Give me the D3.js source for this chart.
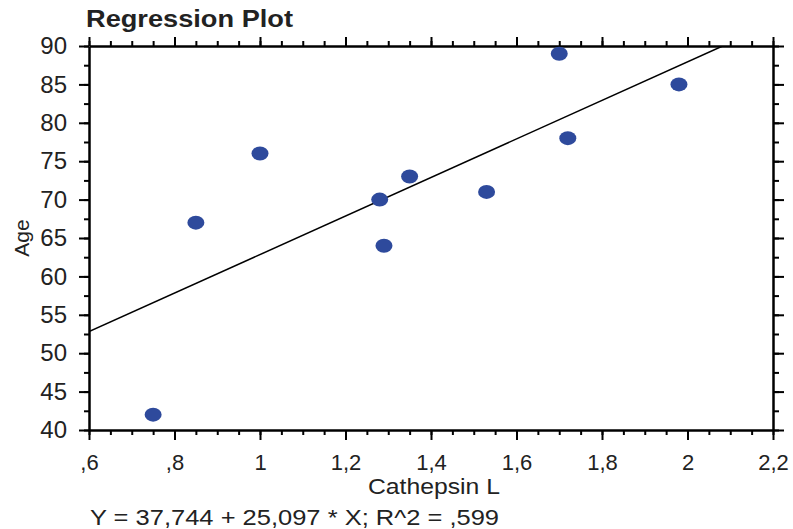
<!DOCTYPE html>
<html>
<head>
<meta charset="utf-8">
<script src="https://cdn.jsdelivr.net/npm/d3@7"></script>
<style>
  body { margin: 0; background: #fff; }
  text { font-family: "Liberation Sans", Arial, sans-serif; fill: #222; }
</style>
</head>
<body>
<svg id="chart"></svg>
<script>
// data
const cathepsin = [0.75, 0.85, 1.0, 1.28, 1.29, 1.35, 1.53, 1.70, 1.72, 1.98];
const age = [42, 67, 76, 70, 64, 73, 71, 89, 78, 85];
const intercept = 37.744;
const slope = 25.097;
const xTicks = [0.6, 0.8, 1.0, 1.2, 1.4, 1.6, 1.8, 2.0, 2.2];
const yTicks = [40, 45, 50, 55, 60, 65, 70, 75, 80, 85, 90];
const equation = "Y = 37,744 + 25,097 * X; R^2 = ,599";

const width = 793, height = 529;
const margin = {top: 46, right: 20, bottom: 99, left: 89};

const svg = d3.select("#chart").attr("width", width).attr("height", height);

const x = d3.scaleLinear().domain([0.6, 2.2]).range([margin.left, width - margin.right]);
const y = d3.scaleLinear().domain([40, 90]).range([height - margin.bottom, margin.top]);

// ",6" style labels with decimal comma
const fmt = v => {
    let s = d3.format("~g")(+v.toFixed(2)).replace(".", ",");
    return s.startsWith("0,") ? s.slice(1) : s;
};

const xMinor = d3.range(0.6, 2.2001, 0.05).map(v => +v.toFixed(2));
const yMinor = d3.range(40, 90.001, 2.5);

function drawAxis(axis, transform, minorAxis, fontSize){
    const gm = svg.append("g").attr("transform", transform).call(minorAxis);
    gm.select(".domain").remove();
    gm.selectAll("text").remove();
    gm.selectAll("line").attr("stroke", "#000").attr("stroke-width", 2);
    const g = svg.append("g").attr("transform", transform).call(axis);
    g.select(".domain").attr("stroke", "#000").attr("stroke-width", 2.5);
    g.selectAll("line").attr("stroke", "#000").attr("stroke-width", 2);
    g.selectAll("text").style("font-size", fontSize + "px").attr("fill", "#222");
    return g;
}

const bottomY = height - margin.bottom;
drawAxis(d3.axisBottom(x).tickValues(xTicks).tickFormat(fmt).tickSize(10).tickSizeOuter(0).tickPadding(14),
    `translate(0,${bottomY})`,
    d3.axisBottom(x).tickValues(xMinor).tickSize(5).tickSizeOuter(0), 22);
drawAxis(d3.axisTop(x).tickValues(xTicks).tickFormat("").tickSize(9).tickSizeOuter(0),
    `translate(0,${margin.top})`,
    d3.axisTop(x).tickValues(xMinor).tickSize(5).tickSizeOuter(0), 22);
drawAxis(d3.axisLeft(y).tickValues(yTicks).tickSize(10).tickSizeOuter(0).tickPadding(12),
    `translate(${margin.left},0)`,
    d3.axisLeft(y).tickValues(yMinor).tickSize(5).tickSizeOuter(0), 24);
drawAxis(d3.axisRight(y).tickValues(yTicks).tickFormat("").tickSize(11).tickSizeOuter(0),
    `translate(${width - margin.right},0)`,
    d3.axisRight(y).tickValues(yMinor).tickSize(6).tickSizeOuter(0), 22);

// regression line, clipped to the plot area
svg.append("clipPath").attr("id", "plot-clip")
    .append("rect")
    .attr("x", margin.left).attr("y", margin.top)
    .attr("width", width - margin.right - margin.left)
    .attr("height", bottomY - margin.top);

const xEnd = (90 - intercept) / slope;
svg.append("line")
    .attr("clip-path", "url(#plot-clip)")
    .attr("x1", x(0.6)).attr("y1", y(intercept + slope * 0.6))
    .attr("x2", x(xEnd)).attr("y2", y(intercept + slope * xEnd))
    .attr("stroke", "#000").attr("stroke-width", 1.5);

svg.append("g").selectAll("ellipse")
    .data(cathepsin.map((c, i) => ({c: c, a: age[i]})))
    .join("ellipse")
    .attr("cx", d => x(d.c))
    .attr("cy", d => y(d.a))
    .attr("rx", 8.5).attr("ry", 7)
    .attr("fill", "#2e4a9c");

// titles
svg.append("text").attr("x", 86).attr("y", 27)
    .style("font-size", "24px").style("font-weight", "bold")
    .attr("textLength", 207).attr("lengthAdjust", "spacingAndGlyphs")
    .text("Regression Plot");

svg.append("text")
    .attr("transform", `translate(29,238) rotate(-90)`)
    .attr("text-anchor", "middle")
    .style("font-size", "21px")
    .text("Age");

svg.append("text").attr("x", 368).attr("y", 494)
    .style("font-size", "22px")
    .attr("textLength", 132).attr("lengthAdjust", "spacingAndGlyphs")
    .text("Cathepsin L");

svg.append("text").attr("x", 90).attr("y", 525)
    .style("font-size", "22px")
    .attr("textLength", 409).attr("lengthAdjust", "spacingAndGlyphs")
    .text(equation);
</script>
</body>
</html>
